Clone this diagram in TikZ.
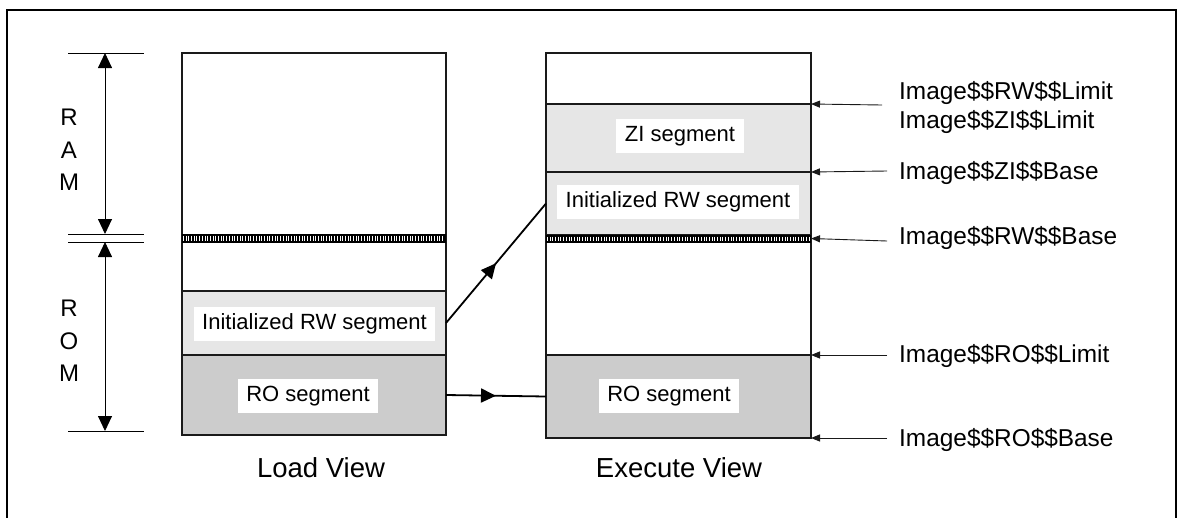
\documentclass[tikz,border=0pt]{standalone}
\usepackage{fontspec}
\setmainfont{Liberation Sans}
\usetikzlibrary{arrows.meta,decorations.markings,calc}

\definecolor{rwfill}{HTML}{E6E6E6}
\definecolor{rofill}{HTML}{CCCCCC}
\definecolor{edge}{HTML}{1A1A1A}

\begin{document}
\begin{tikzpicture}[x=1pt,y=-1pt,
  segment/.style={draw=edge,line width=1.1pt,inner sep=0pt,outer sep=0pt,
    minimum width=#1},
  tag/.style={fill=white,inner xsep=8.5pt,inner ysep=0pt,minimum height=34pt,
    font=\fontsize{22}{24}\selectfont},
  addr/.style={anchor=west,inner sep=0pt,align=left,
    font=\fontsize{24.4}{29}\selectfont},
  caption/.style={inner sep=0pt,font=\fontsize{27.5}{30}\selectfont},
  memtype/.style={inner sep=0pt,align=center,font=\fontsize{24}{32.5}\selectfont},
  pointer/.style={draw=edge,line width=0.9pt,-{Triangle[length=9pt,width=7pt]}},
  span/.style={line width=0.9pt,{Triangle[length=15pt,width=14pt]}-{Triangle[length=15pt,width=14pt]}},
  copyarrow/.style={line width=1.8pt,postaction={decorate},
    decoration={markings,mark=at position 0.5 with {\arrow{Triangle[length=15pt,width=14pt]}}}}]

\useasboundingbox (0,0) rectangle (1178,517);

% outer frame (bottom edge runs off the page)
\draw[line width=2.2pt] (7,540) -- (7,10) -- (1176,10) -- (1176,540);

% ---------- RAM / ROM extent on the left ----------
\draw[line width=0.9pt] (68,53) -- (144,53);
\draw[line width=0.9pt] (68,234) -- (144,234);
\draw[line width=0.9pt] (68,242) -- (144,242);
\draw[line width=0.9pt] (68,431) -- (144,431);
\coordinate (ramtop) at (105,53);
\coordinate (rambot) at (105,234);
\coordinate (romtop) at (105,242);
\coordinate (rombot) at (105,431);
\draw[span] (ramtop) -- (rambot);
\draw[span] (romtop) -- (rombot);
\node[memtype] (ram) at (69,150) {R\\A\\M};
\node[memtype] (rom) at (69,341) {R\\O\\M};

% ---------- load view ----------
\node[segment=264pt,minimum height=64pt,fill=rwfill] (lrw) at (314,323) {};
\node[segment=264pt,minimum height=80pt,fill=rofill] (lro) at (314,395) {};
\node[segment=264pt,minimum height=382pt] (lbox) at (314,244) {};
\fill[black] (182,234) rectangle (446,242);
\foreach \x in {183.3,186,...,445}
  \draw[white,line width=0.7pt] (\x,235.5) -- (\x,240.5);
\draw[line width=0.8pt] (182,234) -- (446,234) (182,242) -- (446,242);
\node[tag] (lrwtag) at (314.5,324) {Initialized RW segment};
\node[tag] (lrotag) at (308,396) {RO segment};
\node[caption] (loadview) at (321,468) {Load View};

% ---------- execute view ----------
\node[segment=265pt,minimum height=68pt,fill=rwfill] (ezi) at (678.5,138) {};
\node[segment=265pt,minimum height=63pt,fill=rwfill] (erw) at (678.5,203.5) {};
\node[segment=265pt,minimum height=83pt,fill=rofill] (ero) at (678.5,396.5) {};
\node[segment=265pt,minimum height=385pt] (ebox) at (678.5,245.5) {};
\fill[black] (546,235) rectangle (811,242);
\foreach \x in {547.3,550,...,810}
  \draw[white,line width=0.7pt] (\x,236.5) -- (\x,240.5);
\draw[line width=0.8pt] (546,235) -- (811,235) (546,242) -- (811,242);
\node[tag] (ezitag) at (680,136) {ZI segment};
\node[tag] (erwtag) at (678,202) {Initialized RW segment};
\node[tag] (erotag) at (669,396) {RO segment};
\node[caption] (execview) at (679,468) {Execute View};

% ---------- copy from load view to execute view ----------
\draw[copyarrow] (lrw.east) -- (erw.west);
\draw[copyarrow] (lro.east) -- (ero.west);

% ---------- linker symbols ----------
\node[addr] (rwlimit) at (899,107.5) {Image\$\$RW\$\$Limit\\Image\$\$ZI\$\$Limit};
\node[addr] (zibase)  at (899,173) {Image\$\$ZI\$\$Base};
\node[addr] (rwbase)  at (899,238) {Image\$\$RW\$\$Base};
\node[addr] (rolimit) at (899,356) {Image\$\$RO\$\$Limit};
\node[addr] (robase)  at (899,440) {Image\$\$RO\$\$Base};

\coordinate (p1) at (882,105);
\coordinate (p2) at (887,171);
\coordinate (p3) at (887,241);
\coordinate (p4) at (887,355);
\coordinate (p5) at (887,438);
\draw[pointer] (p1) -- (ezi.north east);
\draw[pointer] (p2) -- (erw.north east);
\draw[pointer] (p3) -- (811,238.5);
\draw[pointer] (p4) -- (ero.north east);
\draw[pointer] (p5) -- (ero.south east);
\end{tikzpicture}
\end{document}
